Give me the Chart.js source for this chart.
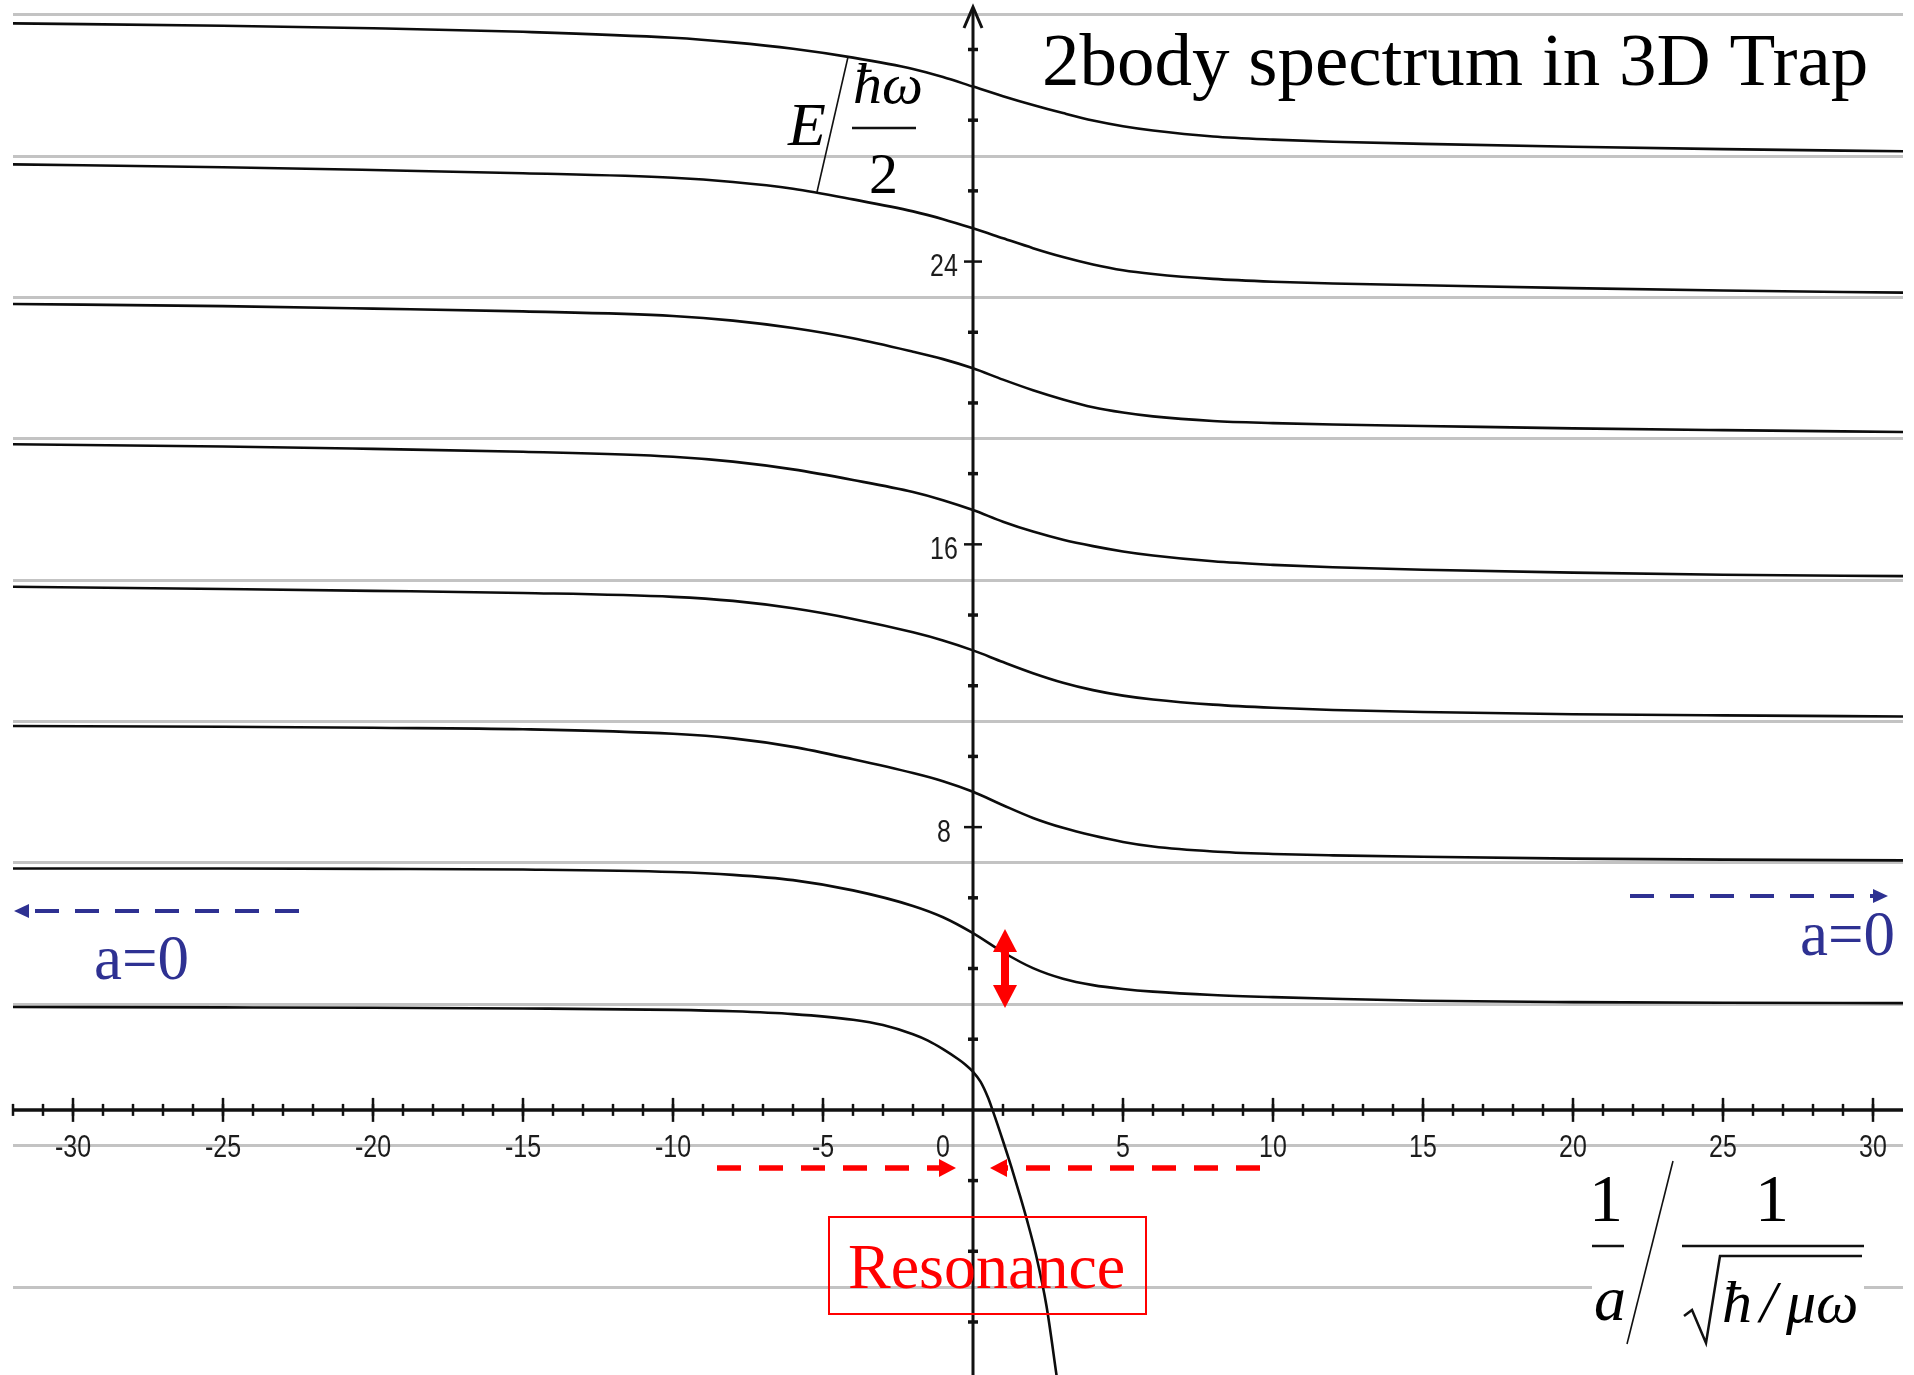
<!DOCTYPE html>
<html>
<head>
<meta charset="utf-8">
<style>
html,body{margin:0;padding:0;background:#ffffff;overflow:hidden}
canvas{display:block}
</style>
<script src="https://cdn.jsdelivr.net/npm/chart.js@4"></script>
</head>
<body>
<canvas id="c" width="1914" height="1375"></canvas>
<script>
// ---------------- data ----------------
const xGrid  = [-32,-25,-20,-15,-10,-8,-6,-4,-2,-1,0,1,2,3,4,5,6,8,10,12,15,20,25,31];
const level7 = [30.74,30.67,30.6,30.5,30.33,30.2,30.02,29.77,29.45,29.22,28.95,28.68,28.43,28.2,27.99,27.83,27.71,27.54,27.45,27.39,27.33,27.25,27.18,27.12];
const level6 = [26.75,26.67,26.59,26.5,26.37,26.25,26.06,25.76,25.42,25.2,24.94,24.66,24.38,24.13,23.92,23.755,23.65,23.51,23.43,23.38,23.33,23.25,23.18,23.12];
const level5 = [22.8,22.74,22.67,22.59,22.46,22.33,22.12,21.83,21.45,21.24,20.98,20.66,20.36,20.1,19.88,19.73,19.62,19.49,19.43,19.39,19.35,19.28,19.23,19.18];
const level4 = [18.83,18.77,18.7,18.62,18.48,18.34,18.12,17.82,17.48,17.25,16.97,16.64,16.36,16.13,15.95,15.8,15.685,15.52,15.42,15.35,15.28,15.2,15.14,15.1];
const level3 = [14.8,14.735,14.685,14.625,14.515,14.4,14.19,13.89,13.51,13.28,13.0,12.67,12.356,12.086,11.876,11.72,11.61,11.465,11.375,11.315,11.255,11.195,11.16,11.13];
const level2 = [10.86,10.84,10.81,10.77,10.64,10.51,10.27,9.92,9.53,9.3,9.0,8.62,8.26,7.98,7.76,7.58,7.45,7.31,7.24,7.2,7.16,7.11,7.08,7.06];
const level1 = [6.83,6.83,6.82,6.8,6.73,6.65,6.5,6.21,5.77,5.45,5.0,4.46,4.01,3.71,3.53,3.42,3.345,3.25,3.19,3.145,3.09,3.05,3.03,3.02];
const xGround = [-32,-25,-20,-15,-10,-8,-6,-4,-3,-2,-1.5,-1,-0.5,-0.25,0,0.25,0.5,0.65,1.0,1.28,1.55,1.8,2.1,2.45,2.8];
const level0  = [2.91,2.9,2.89,2.87,2.83,2.79,2.71,2.55,2.4,2.14,1.96,1.72,1.44,1.28,1.08,0.8,0.35,0.0,-0.88,-1.62,-2.38,-3.12,-4.1,-5.55,-7.6];

const gridLevels = [-5,-1,3,7,11,15,19,23,27,31];
const xMajorTicks = [-30,-25,-20,-15,-10,-5,0,5,10,15,20,25,30];
const xTickLabels = ['-30','-25','-20','-15','-10','-5','0','5','10','15','20','25','30'];
const xMinorTicks = [-32,-31,-30,-29,-28,-27,-26,-25,-24,-23,-22,-21,-20,-19,-18,-17,-16,-15,-14,-13,-12,-11,-10,-9,-8,-7,-6,-5,-4,-3,-2,-1,1,2,3,4,5,6,7,8,9,10,11,12,13,14,15,16,17,18,19,20,21,22,23,24,25,26,27,28,29,30];
const yMajorTicks = [8,16,24];
const yTickLabels = ['8','16','24'];
const yMinorTicks = [-6,-4,-2,2,4,6,10,12,14,18,20,22,26,28,30];

const titleText = '2body spectrum in 3D Trap';
const resonanceText = 'Resonance';
const limitText = 'a=0';

// ---------------- chart ----------------
const curveSeries = [
  [xGrid, level7],[xGrid, level6],[xGrid, level5],[xGrid, level4],
  [xGrid, level3],[xGrid, level2],[xGrid, level1],[xGround, level0]
];
const datasets = curveSeries.map(([xs, ys]) => ({
  data: xs.map((x, i) => ({x: x, y: ys[i]})),
  borderColor: '#0c0c0c',
  borderWidth: 2.6,
  pointRadius: 0,
  fill: false,
  cubicInterpolationMode: 'monotone'
}));

const SERIF = "'Liberation Serif','Times New Roman',serif";
const SANS = "'Liberation Sans',Arial,sans-serif";

function narrowText(ctx, t, cx, cy) {
  ctx.save();
  ctx.translate(cx, cy);
  ctx.scale(0.78, 1);
  ctx.textAlign = 'center';
  ctx.textBaseline = 'middle';
  ctx.fillText(t, 0, 0);
  ctx.restore();
}
function head(ctx, tx, ty, dx, dy, len, half) {
  const bx = tx - dx * len, by = ty - dy * len;
  const px = -dy, py = dx;
  ctx.beginPath();
  ctx.moveTo(tx, ty);
  ctx.lineTo(bx + px * half, by + py * half);
  ctx.lineTo(bx - px * half, by - py * half);
  ctx.closePath();
  ctx.fill();
}
function dashedArrow(ctx, x0, x1, y, color, width, dash, headLen, headHalf) {
  const dir = x1 > x0 ? 1 : -1;
  ctx.save();
  ctx.strokeStyle = color; ctx.fillStyle = color;
  ctx.lineWidth = width;
  ctx.setLineDash(dash);
  ctx.beginPath();
  ctx.moveTo(x0, y);
  ctx.lineTo(x1 - dir * headLen, y);
  ctx.stroke();
  ctx.setLineDash([]);
  head(ctx, x1, y, dir, 0, headLen, headHalf);
  ctx.restore();
}

const decor = {
  id: 'decor',
  beforeDatasetsDraw(chart) {
    const ctx = chart.ctx, ys = chart.scales.y, a = chart.chartArea;
    ctx.save();
    ctx.strokeStyle = '#c3c3c3';
    ctx.lineWidth = 3;
    gridLevels.forEach(v => {
      const py = Math.round(ys.getPixelForValue(v)) + 0.5;
      ctx.beginPath(); ctx.moveTo(a.left, py); ctx.lineTo(a.right, py); ctx.stroke();
    });
    ctx.restore();
  },
  afterDatasetsDraw(chart) {
    const ctx = chart.ctx, xs = chart.scales.x, ys = chart.scales.y, a = chart.chartArea;
    const x0 = xs.getPixelForValue(0), y0 = ys.getPixelForValue(0);
    ctx.save();
    ctx.fillStyle = '#ffffff';
    ctx.fillRect(1592, 1158, 272, 195);

    // axes
    ctx.strokeStyle = '#111'; ctx.fillStyle = '#111';
    ctx.lineWidth = 3.5;
    ctx.beginPath(); ctx.moveTo(a.left, y0); ctx.lineTo(a.right, y0); ctx.stroke();
    ctx.lineWidth = 3;
    ctx.beginPath(); ctx.moveTo(x0, a.bottom); ctx.lineTo(x0, 9); ctx.stroke();
    ctx.beginPath();
    ctx.moveTo(x0 - 9, 28); ctx.lineTo(x0, 7); ctx.lineTo(x0 + 9, 28);
    ctx.stroke();

    // x ticks
    ctx.lineWidth = 2.5;
    xMinorTicks.forEach(v => {
      const px = xs.getPixelForValue(v);
      ctx.beginPath(); ctx.moveTo(px, y0 - 6); ctx.lineTo(px, y0 + 6); ctx.stroke();
    });
    xMajorTicks.forEach(v => {
      if (v === 0) return;
      const px = xs.getPixelForValue(v);
      ctx.beginPath(); ctx.moveTo(px, y0 - 12); ctx.lineTo(px, y0 + 12); ctx.stroke();
    });
    // y ticks
    ctx.lineWidth = 3.5;
    yMinorTicks.forEach(v => {
      const py = ys.getPixelForValue(v);
      ctx.beginPath(); ctx.moveTo(x0 - 5, py); ctx.lineTo(x0 + 5, py); ctx.stroke();
    });
    ctx.lineWidth = 2.5;
    yMajorTicks.forEach(v => {
      const py = ys.getPixelForValue(v);
      ctx.beginPath(); ctx.moveTo(x0 - 9, py); ctx.lineTo(x0 + 9, py); ctx.stroke();
    });

    // tick labels
    ctx.fillStyle = '#1c1c1c';
    ctx.font = '32px ' + SANS;
    xMajorTicks.forEach((v, i) => {
      const px = xs.getPixelForValue(v === 0 ? -1 : v);
      narrowText(ctx, xTickLabels[i], px, 1148);
    });
    yMajorTicks.forEach((v, i) => {
      const py = ys.getPixelForValue(v);
      narrowText(ctx, yTickLabels[i], 944, py + 6);
    });

    // title
    ctx.fillStyle = '#000';
    ctx.font = '75px ' + SERIF;
    ctx.textAlign = 'left'; ctx.textBaseline = 'alphabetic';
    ctx.fillText(titleText, 1042, 85);

    // y-axis quantity  E / (hbar omega / 2)
    ctx.font = 'italic 62px ' + SERIF;
    ctx.fillText('E', 788, 145);
    ctx.lineWidth = 1.6;
    ctx.beginPath(); ctx.moveTo(817, 192); ctx.lineTo(848, 57); ctx.stroke();
    ctx.font = 'italic 58px ' + SERIF;
    ctx.fillText('\u0127\u03C9', 853, 103);
    ctx.lineWidth = 2.5;
    ctx.beginPath(); ctx.moveTo(852, 128); ctx.lineTo(916, 128); ctx.stroke();
    ctx.font = '58px ' + SERIF;
    ctx.fillText('2', 869, 193);

    // x-axis quantity  (1/a) / (1/sqrt(hbar/mu omega))
    ctx.font = '68px ' + SERIF;
    ctx.textAlign = 'center';
    ctx.fillText('1', 1606, 1221);
    ctx.fillText('1', 1772, 1221);
    ctx.lineWidth = 2.5;
    ctx.beginPath(); ctx.moveTo(1592, 1246); ctx.lineTo(1624, 1246); ctx.stroke();
    ctx.beginPath(); ctx.moveTo(1682, 1246); ctx.lineTo(1864, 1246); ctx.stroke();
    ctx.font = 'italic 64px ' + SERIF;
    ctx.fillText('a', 1610, 1320);
    ctx.lineWidth = 1.6;
    ctx.beginPath(); ctx.moveTo(1627, 1344); ctx.lineTo(1673, 1161); ctx.stroke();
    ctx.lineWidth = 2.5;
    ctx.beginPath();
    ctx.moveTo(1684, 1316); ctx.lineTo(1692, 1310); ctx.lineTo(1706, 1343);
    ctx.lineTo(1720, 1256); ctx.lineTo(1862, 1256);
    ctx.stroke();
    ctx.textAlign = 'left';
    ctx.font = 'italic 60px ' + SERIF;
    ctx.fillText('\u0127', 1722, 1322);
    ctx.fillText('/', 1760, 1322);
    ctx.fillText('\u03BC\u03C9', 1786, 1322);

    // blue "a=0" markers
    const blue = '#2e3192';
    ctx.fillStyle = blue;
    ctx.font = '63px ' + SERIF;
    ctx.fillText(limitText, 94, 979);
    ctx.fillText(limitText, 1800, 955);
    dashedArrow(ctx, 299, 14, 911, blue, 4, [24, 16], 15, 7);
    dashedArrow(ctx, 1630, 1888, 896, blue, 4, [24, 16], 15, 7);

    // red resonance markers
    const red = '#ff0000';
    dashedArrow(ctx, 717, 956, 1168, red, 5.5, [24, 18], 17, 9);
    dashedArrow(ctx, 1260, 990, 1168, red, 5.5, [24, 18], 17, 9);
    ctx.fillStyle = red; ctx.strokeStyle = red;
    ctx.lineWidth = 8;
    ctx.beginPath(); ctx.moveTo(1005, 950); ctx.lineTo(1005, 987); ctx.stroke();
    head(ctx, 1005, 929, 0, -1, 23, 12);
    head(ctx, 1005, 1008, 0, 1, 23, 12);
    ctx.lineWidth = 2;
    ctx.strokeRect(829, 1217, 317, 97);
    ctx.font = '64px ' + SERIF;
    ctx.fillText(resonanceText, 848, 1288);
    ctx.restore();
  }
};

new Chart(document.getElementById('c'), {
  type: 'line',
  data: { datasets: datasets },
  options: {
    responsive: false,
    devicePixelRatio: 1,
    animation: false,
    layout: { padding: { left: 13, right: 11, top: 0, bottom: 0 } },
    plugins: { legend: { display: false }, tooltip: { enabled: false } },
    scales: {
      x: { type: 'linear', min: -32, max: 31, display: false },
      y: { type: 'linear', min: -7.5, max: 31.4, display: false }
    }
  },
  plugins: [decor]
});
</script>
</body>
</html>
